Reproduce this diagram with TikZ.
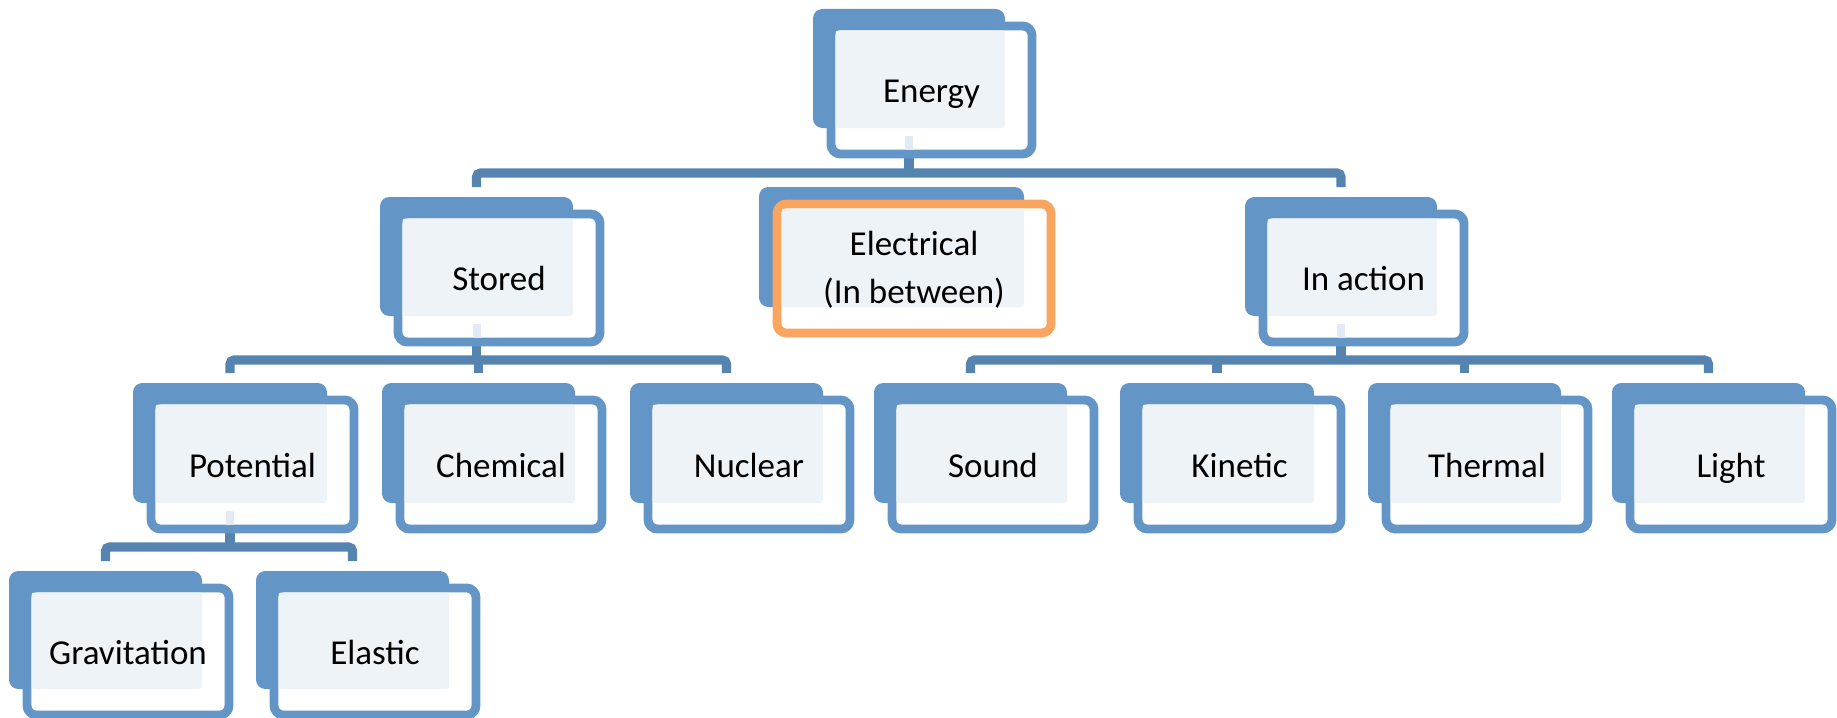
\documentclass[tikz,border=0pt]{standalone}
\usepackage{fontspec}
\setmainfont{Carlito}
\definecolor{boxblue}{HTML}{6396C6}
\definecolor{conncol}{HTML}{5684B0}
\definecolor{lightfill}{HTML}{EEF3F8}
\definecolor{stubcol}{HTML}{E3EAF3}
\definecolor{orangeline}{HTML}{F9A55F}
\tikzset{
  backbox/.style={fill=boxblue, draw=none, rounded corners=7pt, inner sep=0pt, outer sep=0pt},
  framebox/.style={fill=white, line width=6.6pt, rounded corners=7pt, inner sep=0pt, outer sep=0pt},
  txt/.style={inner sep=0pt, font=\fontsize{26.25}{36}\selectfont, text=black},
  single/.style={anchor=base, yshift=-9.4pt},
  conn/.style={draw=conncol, line width=6.8pt, rounded corners=3pt, line cap=butt},
  stubline/.style={draw=stubcol, line width=6pt, line cap=butt},
}
% #1 name, #2 x1, #3 y1, #4 x2, #5 y2 (back box, pixels, y down), #6 text, #7 frame colour, #8 text options
\newcommand\EBox[8]{%
  \node[backbox, minimum width={(#4-#2)*0.75pt}, minimum height={(#5-#3)*0.75pt}] (#1-back) at ({(#2+#4)/2},{(#3+#5)/2}) {};
  \node[framebox, draw=#7, minimum width={(#4-#2+9)*0.75pt}, minimum height={(#5-#3+9)*0.75pt}] (#1-frame) at ({(#2+#4)/2+22.5},{(#3+#5)/2+21.5}) {};
  \fill[lightfill, rounded corners=2pt] (#2+22.5,#3+21.5) rectangle (#4,#5);
  \node[txt, #8] (#1) at ({(#2+#4)/2+22.5},{(#3+#5)/2+21.5}) {#6};
}
\begin{document}
\begin{tikzpicture}[x=0.75pt, y=-0.75pt]
\useasboundingbox (0,0) rectangle (1837,717);
% bus levels
\coordinate (busA) at (0,173);
\coordinate (busB) at (0,360);
\coordinate (busC) at (0,547);
% back-box centres used by connectors
\path (909,68.5) coordinate (energy-c) (476.5,256.5) coordinate (stored-c) (1341,256.5) coordinate (inaction-c) (230,443) coordinate (potential-c)
      (478.5,443) coordinate (chemical-c) (726.5,443) coordinate (nuclear-c)
      (970.5,443) coordinate (sound-c) (1217,443) coordinate (kinetic-c) (1464.5,443) coordinate (thermal-c) (1708.5,443) coordinate (light-c)
      (105.5,630) coordinate (grav-c) (352.5,630) coordinate (elastic-c);
% connectors (drawn first, boxes cover their ends)
\draw[conn] (energy-c) -- (energy-c |- busA);
\draw[conn] (stored-c |- 0,187) -- (stored-c |- busA) -- (inaction-c |- busA) -- (inaction-c |- 0,187);
\draw[conn] (stored-c) -- (stored-c |- busB);
\draw[conn] (potential-c |- 0,373) -- (potential-c |- busB) -- (nuclear-c |- busB) -- (nuclear-c |- 0,373);
\draw[conn] (chemical-c |- busB) -- (chemical-c |- 0,373);
\draw[conn] (inaction-c) -- (inaction-c |- busB);
\draw[conn] (sound-c |- 0,373) -- (sound-c |- busB) -- (light-c |- busB) -- (light-c |- 0,373);
\draw[conn] (kinetic-c |- busB) -- (kinetic-c |- 0,373);
\draw[conn] (thermal-c |- busB) -- (thermal-c |- 0,373);
\draw[conn] (potential-c) -- (potential-c |- busC);
\draw[conn] (grav-c |- 0,561) -- (grav-c |- busC) -- (elastic-c |- busC) -- (elastic-c |- 0,561);
% boxes
\EBox{energy}{813}{9}{1005}{128}{Energy}{boxblue}{single}
\EBox{stored}{380}{197}{573}{316}{Stored}{boxblue}{single}
\EBox{electrical}{759}{187}{1024}{307}{Electrical\\(In between)}{orangeline}{align=center, yshift=-0.75pt}
\EBox{inaction}{1245}{197}{1437}{316}{In action}{boxblue}{single}
\EBox{potential}{133}{383}{327}{503}{Potential}{boxblue}{single}
\EBox{chemical}{382}{383}{575}{503}{Chemical}{boxblue}{single}
\EBox{nuclear}{630}{383}{823}{503}{Nuclear}{boxblue}{single}
\EBox{sound}{874}{383}{1067}{503}{Sound}{boxblue}{single}
\EBox{kinetic}{1120}{383}{1314}{503}{Kinetic}{boxblue}{single}
\EBox{thermal}{1368}{383}{1561}{503}{Thermal}{boxblue}{single}
\EBox{light}{1612}{383}{1805}{503}{Light}{boxblue}{single}
\EBox{grav}{9}{571}{202}{689}{Gravitation}{boxblue}{single}
\EBox{elastic}{256}{571}{449}{689}{Elastic}{boxblue}{single}
% light stubs inside parent frames
\draw[stubline] ([yshift=-6pt]energy-back.south) -- ([yshift=3.3pt]energy-back.south |- energy-frame.south);
\draw[stubline] ([yshift=-6pt]stored-back.south) -- ([yshift=3.3pt]stored-back.south |- stored-frame.south);
\draw[stubline] ([yshift=-6pt]inaction-back.south) -- ([yshift=3.3pt]inaction-back.south |- inaction-frame.south);
\draw[stubline] ([yshift=-6pt]potential-back.south) -- ([yshift=3.3pt]potential-back.south |- potential-frame.south);
\end{tikzpicture}
\end{document}
